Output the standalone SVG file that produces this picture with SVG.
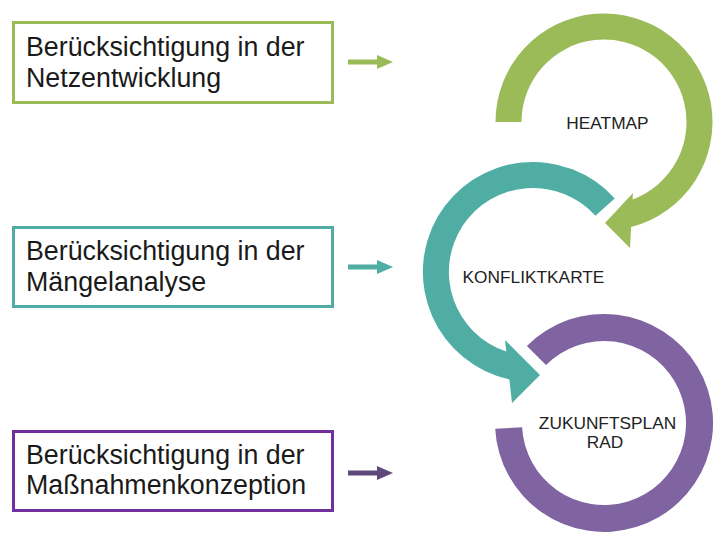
<svg xmlns="http://www.w3.org/2000/svg" width="714" height="537" viewBox="0 0 714 537">
  <style>
    .box { fill: #ffffff; stroke-width: 3; }
    .box-text { font-family: "Liberation Sans", Arial, sans-serif; font-size: 26.8px; fill: #1a1a1a; }
    .ring-text { font-family: "Liberation Sans", Arial, sans-serif; font-size: 17.3px; fill: #222222; text-anchor: middle; }
    .green { fill: #9bbb59; }
    .teal { fill: #4fada4; }
    .purple { fill: #8064a2; }
    .shaft { stroke-width: 5; fill: none; }
  </style>
  <rect width="714" height="537" fill="#ffffff"/>

  <!-- stage boxes -->
  <g id="box-netzentwicklung">
    <rect class="box" x="13.5" y="22.5" width="319" height="80" stroke="#9bbb59"/>
    <text class="box-text" x="26" y="56">Berücksichtigung in der</text>
    <text class="box-text" x="26" y="87">Netzentwicklung</text>
  </g>
  <g id="box-maengelanalyse">
    <rect class="box" x="13.5" y="227.5" width="319" height="79" stroke="#4fada4"/>
    <text class="box-text" x="26" y="259.5">Berücksichtigung in der</text>
    <text class="box-text" x="26" y="290.5">Mängelanalyse</text>
  </g>
  <g id="box-massnahmenkonzeption">
    <rect class="box" x="13.5" y="431.5" width="319" height="79" stroke="#7030a0"/>
    <text class="box-text" x="26" y="463.5">Berücksichtigung in der</text>
    <text class="box-text" x="26" y="494">Maßnahmenkonzeption</text>
  </g>

  <!-- circular arrows -->
  <g id="ring-heatmap">
    <path class="green" d="M 495.5,122 A 108.5 108.5 0 1 1 631.1,227 L 630,248 L 605,223 L 633,193 L 632.6,199.4 A 82.5 82.5 0 1 0 521.5,122 Z"/>
    <text class="ring-text" x="607.5" y="128.5">HEATMAP</text>
  </g>
  <g id="ring-konfliktkarte">
    <path class="teal" d="M 614.7,198.4 A 110 110 0 1 0 509.4,379.4 L 512,403 L 540,375 L 505,340 L 506.3,351.6 A 84 84 0 1 1 595.4,215.8 Z"/>
    <text class="ring-text" x="533.5" y="283">KONFLIKTKARTE</text>
  </g>
  <g id="ring-zukunftsplan">
    <path class="purple" d="M 526.9,345.9 A 109 109 0 1 1 495.2,428.7 L 522.1,427.3 A 82 82 0 1 0 546,365 Z"/>
    <text class="ring-text" x="607.5" y="429">ZUKUNFTSPLAN</text>
    <text class="ring-text" x="605" y="447.5">RAD</text>
  </g>

  <!-- connectors from boxes towards the rings -->
  <g id="connectors">
    <line class="shaft" x1="348" y1="62" x2="379" y2="62" stroke="#9bbb59"/>
    <polygon points="377,55 393,62 377,69" fill="#9bbb59"/>
    <line class="shaft" x1="348" y1="267" x2="379" y2="267" stroke="#4fada4"/>
    <polygon points="377,260 393,267 377,274" fill="#4fada4"/>
    <line class="shaft" x1="348" y1="473" x2="379" y2="473" stroke="#5f497a"/>
    <polygon points="377,466 393,473 377,480" fill="#5f497a"/>
  </g>
</svg>
